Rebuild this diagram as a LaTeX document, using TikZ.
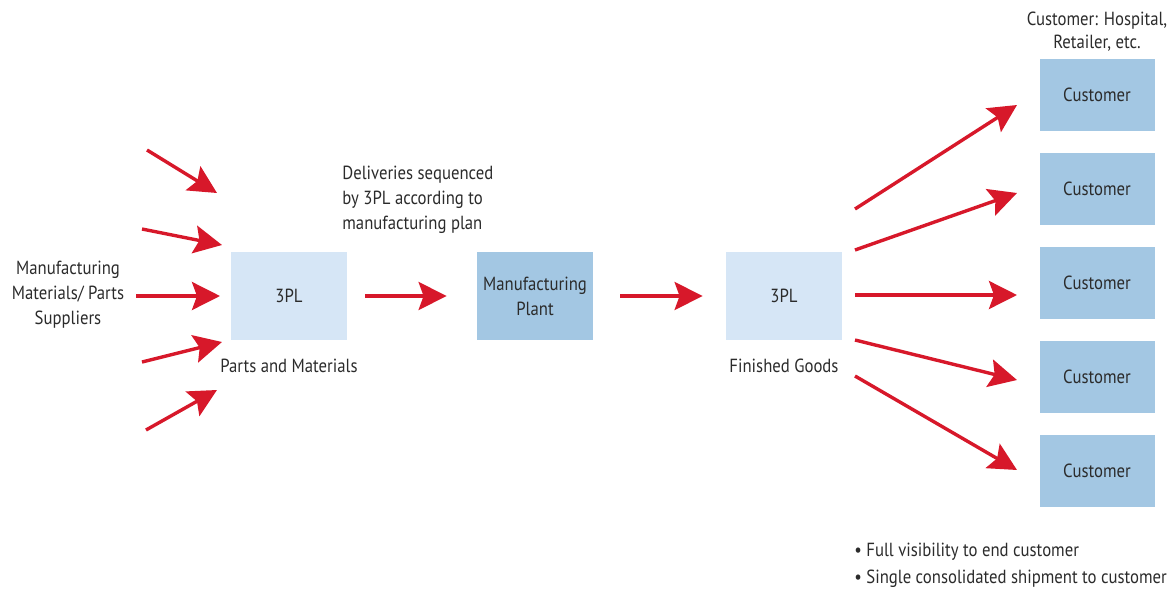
\documentclass[tikz,border=0pt]{standalone}
\usepackage{fontspec}
\setmainfont[FakeStretch=0.88]{PT Sans}
\usetikzlibrary{arrows.meta,positioning}

\definecolor{flowred}{HTML}{D7182A}
\definecolor{lightbox}{HTML}{D6E6F6}
\definecolor{darkbox}{HTML}{A3C7E3}
\definecolor{txtgray}{HTML}{2B2B2B}

\tikzset{
  flow/.style={draw=flowred, line width=1.7pt, -{Stealth[length=14pt,width=14pt,inset=2.5pt]}},
  hubbox/.style={fill=lightbox, minimum width=58pt, minimum height=44pt, inner sep=2pt},
  plantbox/.style={fill=darkbox, minimum width=58pt, minimum height=44pt, align=center, inner sep=2pt},
  custbox/.style={fill=darkbox, minimum width=57.5pt, minimum height=36pt, inner sep=2pt},
  note/.style={align=center, inner sep=1pt},
}

\begin{document}
\begin{tikzpicture}[x=0.5pt, y=-0.5pt, font=\fontsize{9.5}{12.5}\selectfont, text=txtgray]
    \useasboundingbox (0,0) rectangle (1175,590);

    % Boxes
    \node[hubbox] (parts) at (289,296) {3PL};
    \node[plantbox] (plant) at (535,296) {Manufacturing\\Plant};
    \node[hubbox] (goods) at (784,296) {3PL};
    \foreach \i/\y in {1/95,2/189,3/283,4/377,5/471} {
        \node[custbox] (cust\i) at (1097,\y) {Customer};
    }

    % Labels
    \node[note] (suppliers) at (68,295) {Manufacturing\\Materials/ Parts\\Suppliers};
    \node[note, below=8pt of parts] (partslbl) {Parts and Materials};
    \node[note, below=8pt of goods] (goodslbl) {Finished Goods};
    \node[align=left, anchor=north west, inner sep=1pt] (seqlbl) at (340,164)
        {Deliveries sequenced\\by 3PL according to\\manufacturing plan};
    \node[note, anchor=south, font=\fontsize{9.5}{11.5}\selectfont] (custlbl) at (1097,54)
        {Customer: Hospital,\\Retailer, etc.};
    \node[align=left, anchor=west, inner sep=1pt, font=\fontsize{9.5}{13.5}\selectfont] (bullets) at (852,565)
        {\textbullet{} Full visibility to end customer\\\textbullet{} Single consolidated shipment to customer};

    % Inbound arrows
    \foreach \i/\sx/\sy/\tx/\ty in {1/147/150/217/193, 2/142/229/222/245, 3/136/296/220/296,
                                    4/142/362/222/342, 5/146/430/217/390} {
        \coordinate (in\i) at (\sx,\sy);
        \coordinate (intip\i) at (\tx,\ty);
        \draw[flow] (in\i) -- (intip\i);
    }

    % Sequenced deliveries
    \draw[flow, shorten <=9pt, shorten >=15pt] (parts) -- (plant);
    \draw[flow, shorten <=13.5pt, shorten >=11.5pt] (plant) -- (goods);

    % Outbound arrows
    \foreach \i/\sy/\ty in {1/209/105, 2/250/193, 3/295/295, 4/340/380, 5/376/470} {
        \coordinate (out\i) at (855,\sy);
        \coordinate (outtip\i) at (1017,\ty);
        \draw[flow] (out\i) -- (outtip\i);
    }
\end{tikzpicture}
\end{document}
